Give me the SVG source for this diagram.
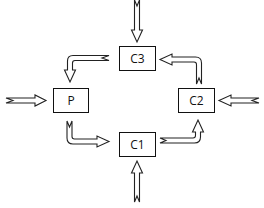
<svg xmlns="http://www.w3.org/2000/svg" width="264" height="208" viewBox="0 0 264 208">
<style>
.box{fill:#fff;stroke:#111;stroke-width:1}
.lbl{font-family:"Open Sans","Liberation Sans",sans-serif;font-size:12px;fill:#111;text-anchor:middle;dominant-baseline:central}
.arr{fill:#fff;stroke:#222;stroke-width:1.1;stroke-linejoin:miter}
</style>
<rect width="264" height="208" fill="#fff"/>
<g id="connectors">
<path class="arr" d="M134.5,0 L137,6 L139.5,0 L139.5,30 L142.5,30 L137,42 L131.5,30 L134.5,30 Z"/>
<path class="arr" d="M134.5,202 L137,196 L139.5,202 L139.5,173 L142.5,173 L137,161 L131.5,173 L134.5,173 Z"/>
<path class="arr" d="M6,98 L13,100.5 L6,103 L35,103 L35,106 L46,100.5 L35,95 L35,98 Z"/>
<path class="arr" d="M259,98 L252,100.5 L259,103 L231,103 L231,106 L219,100.5 L231,95 L231,98 Z"/>
<path class="arr" d="M109,55.5 L102,58 L109,60.5 L75,60.5 Q72.5,60.5 72.5,63 L72.5,70 L75.5,70 L70,82 L64.5,70 L67.5,70 L67.5,61 Q67.5,55.5 73,55.5 Z"/>
<path class="arr" d="M196.5,84 L199,78 L201.5,84 L201.5,63 Q201.5,57 195.5,57 L172,57 L172,54 L160,59.5 L172,65 L172,62 L194,62 Q196.5,62 196.5,64.5 Z"/>
<path class="arr" d="M67,121 L69.5,127 L72,121 L72,136.5 Q72,139 74.5,139 L97,139 L97,136 L109,141.5 L97,147 L97,144 L73,144 Q67,144 67,138 Z"/>
<path class="arr" d="M160,138 L166,140.5 L160,143 L194.5,143 Q200.5,143 200.5,137 L200.5,132 L203.5,132 L198,120 L192.5,132 L195.5,132 L195.5,135.5 Q195.5,138 193,138 Z"/>
</g>
<g id="C3"><rect class="box" x="119.5" y="46.5" width="36" height="24"/><text class="lbl" x="137.5" y="58.5">C3</text></g>
<g id="P"><rect class="box" x="53.5" y="88.5" width="35" height="24"/><text class="lbl" x="71" y="100.5">P</text></g>
<g id="C2"><rect class="box" x="178.5" y="88.5" width="36" height="24"/><text class="lbl" x="196.5" y="100.5">C2</text></g>
<g id="C1"><rect class="box" x="119.5" y="132.5" width="36" height="24"/><text class="lbl" x="137.5" y="144.5">C1</text></g>
</svg>
